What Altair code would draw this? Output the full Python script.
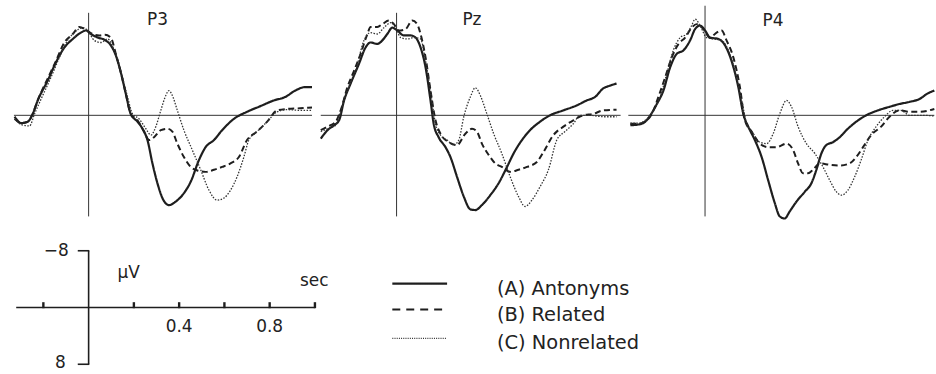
import altair as alt
import pandas as pd

INK = "#1e1e1e"
FONT = "DejaVu Sans"

conditions = ["(A) Antonyms", "(B) Related", "(C) Nonrelated"]
panel_names = ["P3", "Pz", "P4"]

# ---------------- P3 ----------------
p3_a_t = [-0.327, -0.298, -0.269, -0.247, -0.225, -0.181, -0.144, -0.107, -0.070, -0.034, -0.012, 0.010, 0.040, 0.069, 0.098, 0.120, 0.142, 0.164, 0.186, 0.216, 0.238, 0.260, 0.282, 0.304, 0.326, 0.355, 0.385, 0.414, 0.451, 0.488, 0.517, 0.554, 0.590, 0.642, 0.700, 0.759, 0.818, 0.869, 0.913, 0.957, 0.987]
p3_a_v = [0.2, 1.1, 0.9, -0.2, -2.1, -4.9, -7.5, -9.6, -10.8, -11.7, -12.0, -11.5, -11.0, -10.7, -9.9, -8.5, -6.1, -3.1, -0.2, 0.9, 1.9, 3.5, 6.8, 9.6, 11.7, 12.7, 12.2, 11.3, 9.4, 6.3, 4.5, 3.5, 2.1, 0.5, -0.5, -1.3, -2.1, -2.6, -3.5, -4.0, -4.0]

p3_b_t = [-0.327, -0.298, -0.269, -0.247, -0.225, -0.181, -0.144, -0.107, -0.070, -0.041, -0.012, 0.018, 0.047, 0.072, 0.098, 0.120, 0.142, 0.164, 0.186, 0.216, 0.245, 0.267, 0.289, 0.319, 0.348, 0.370, 0.392, 0.421, 0.451, 0.480, 0.517, 0.554, 0.590, 0.627, 0.664, 0.700, 0.744, 0.789, 0.833, 0.877, 0.935, 0.987]
p3_b_v = [0.5, 1.1, 0.9, -0.2, -2.1, -5.2, -7.7, -10.3, -11.5, -12.5, -12.1, -11.5, -11.3, -11.4, -11.0, -8.7, -6.1, -3.1, -0.2, 0.7, 2.3, 3.5, 3.1, 2.1, 1.9, 2.3, 4.0, 5.9, 7.3, 7.8, 8.0, 7.7, 7.3, 6.8, 5.9, 3.5, 2.3, 0.9, -0.7, -0.9, -1.0, -1.1]

p3_c_t = [-0.327, -0.298, -0.261, -0.239, -0.210, -0.166, -0.129, -0.093, -0.063, -0.026, -0.004, 0.025, 0.054, 0.084, 0.113, 0.142, 0.172, 0.194, 0.223, 0.253, 0.275, 0.297, 0.319, 0.341, 0.355, 0.370, 0.392, 0.421, 0.458, 0.495, 0.532, 0.568, 0.598, 0.627, 0.656, 0.686, 0.708, 0.744, 0.789, 0.833, 0.877, 0.935, 0.987]
p3_c_v = [0.5, 1.3, 1.5, -0.2, -2.3, -5.4, -8.2, -10.6, -11.7, -12.4, -12.0, -10.6, -10.3, -10.8, -9.2, -6.3, -2.6, -0.2, 0.5, 1.9, 2.8, 1.6, -0.7, -2.8, -3.5, -2.8, -0.7, 2.1, 4.9, 7.7, 10.6, 12.0, 11.7, 10.6, 8.7, 5.9, 3.5, 2.3, 0.9, -0.5, -0.8, -0.7, -0.7]

# ---------------- Pz ----------------
pz_a_t = [-0.335, -0.305, -0.276, -0.254, -0.232, -0.203, -0.166, -0.137, -0.115, -0.085, -0.063, -0.041, -0.019, 0.003, 0.032, 0.062, 0.084, 0.106, 0.128, 0.150, 0.164, 0.186, 0.216, 0.238, 0.267, 0.297, 0.326, 0.348, 0.377, 0.414, 0.451, 0.488, 0.517, 0.554, 0.590, 0.634, 0.678, 0.737, 0.796, 0.840, 0.877, 0.913, 0.943, 0.972]
pz_a_v = [3.3, 2.1, 1.4, 0.7, -2.1, -4.5, -7.3, -9.6, -10.3, -10.1, -10.6, -11.5, -12.4, -12.0, -11.3, -11.3, -11.0, -9.6, -6.8, -2.1, 1.2, 3.1, 4.5, 5.9, 8.7, 11.5, 13.3, 13.4, 12.7, 11.3, 9.6, 7.3, 5.4, 3.5, 2.1, 0.9, 0.0, -0.7, -1.4, -2.1, -2.6, -3.8, -4.2, -4.5]

pz_b_t = [-0.335, -0.305, -0.269, -0.247, -0.217, -0.188, -0.159, -0.129, -0.115, -0.085, -0.063, -0.034, -0.012, 0.010, 0.040, 0.069, 0.091, 0.106, 0.128, 0.150, 0.172, 0.194, 0.231, 0.267, 0.304, 0.333, 0.355, 0.377, 0.407, 0.436, 0.465, 0.502, 0.539, 0.576, 0.620, 0.649, 0.693, 0.737, 0.781, 0.825, 0.869, 0.913, 0.972]
pz_b_v = [2.1, 1.6, 0.9, -0.7, -4.0, -6.3, -8.7, -11.5, -12.5, -12.5, -12.9, -13.4, -12.9, -12.0, -12.2, -13.4, -12.9, -11.5, -8.2, -3.5, 0.7, 2.6, 3.8, 4.2, 2.6, 1.9, 2.3, 4.0, 5.6, 6.8, 7.3, 8.0, 7.7, 7.3, 6.6, 5.2, 2.8, 1.6, 0.7, 0.0, -0.2, -0.7, -0.8]

pz_c_t = [-0.335, -0.305, -0.269, -0.247, -0.217, -0.181, -0.144, -0.115, -0.085, -0.056, -0.026, -0.004, 0.018, 0.047, 0.076, 0.106, 0.128, 0.150, 0.172, 0.194, 0.223, 0.253, 0.275, 0.297, 0.326, 0.348, 0.370, 0.399, 0.429, 0.465, 0.502, 0.539, 0.568, 0.598, 0.634, 0.671, 0.708, 0.744, 0.781, 0.811, 0.855, 0.913, 0.972]
pz_c_v = [2.3, 1.9, 1.4, -0.7, -3.5, -6.3, -10.6, -11.7, -11.5, -12.4, -13.1, -12.4, -11.0, -10.8, -11.0, -10.8, -7.7, -3.5, 1.2, 2.8, 3.5, 4.2, 3.5, 0.2, -2.6, -3.9, -2.8, -0.2, 2.6, 5.4, 8.7, 11.5, 12.9, 12.0, 10.1, 7.7, 3.5, 2.3, 1.2, 0.0, 0.0, 0.2, 0.2]

# ---------------- P4 ----------------
p4_a_t = [-0.330, -0.294, -0.264, -0.242, -0.213, -0.184, -0.154, -0.125, -0.095, -0.066, -0.044, -0.022, 0.000, 0.022, 0.059, 0.088, 0.117, 0.147, 0.169, 0.191, 0.220, 0.250, 0.279, 0.308, 0.330, 0.352, 0.374, 0.404, 0.441, 0.470, 0.492, 0.514, 0.536, 0.565, 0.595, 0.631, 0.668, 0.712, 0.764, 0.815, 0.859, 0.903, 0.947, 0.984, 1.013]
p4_a_v = [1.4, 1.3, 0.9, 0.0, -1.6, -3.5, -6.8, -8.7, -9.2, -10.6, -12.2, -12.7, -12.0, -11.0, -10.8, -9.9, -7.7, -4.0, -0.2, 1.6, 3.5, 5.9, 9.2, 12.4, 14.3, 14.6, 13.6, 12.2, 10.8, 9.6, 7.7, 5.4, 4.2, 3.8, 3.1, 1.9, 0.9, 0.0, -0.7, -1.2, -1.6, -1.9, -2.3, -3.1, -3.5]

p4_b_t = [-0.330, -0.294, -0.257, -0.235, -0.206, -0.176, -0.147, -0.117, -0.088, -0.059, -0.037, -0.007, 0.022, 0.051, 0.073, 0.095, 0.125, 0.154, 0.176, 0.206, 0.242, 0.279, 0.316, 0.360, 0.389, 0.411, 0.433, 0.455, 0.477, 0.507, 0.551, 0.595, 0.639, 0.668, 0.698, 0.734, 0.778, 0.815, 0.859, 0.903, 0.947, 1.013]
p4_b_v = [1.2, 1.2, 0.7, -0.2, -2.6, -5.4, -8.2, -10.1, -11.0, -12.4, -12.9, -12.2, -11.0, -11.7, -12.0, -10.6, -8.2, -4.0, 0.7, 2.3, 4.0, 4.5, 4.5, 4.0, 4.9, 6.8, 8.2, 8.2, 7.7, 6.8, 7.0, 7.1, 6.8, 5.9, 4.5, 2.8, 1.6, 0.2, -0.7, -0.5, -0.5, -0.9]

p4_c_t = [-0.330, -0.294, -0.257, -0.228, -0.198, -0.169, -0.140, -0.110, -0.081, -0.059, -0.044, -0.022, 0.007, 0.037, 0.073, 0.103, 0.132, 0.162, 0.184, 0.213, 0.242, 0.272, 0.301, 0.330, 0.360, 0.382, 0.411, 0.448, 0.485, 0.521, 0.551, 0.580, 0.602, 0.631, 0.661, 0.690, 0.720, 0.756, 0.793, 0.830, 0.866, 0.903, 0.962, 1.013]
p4_c_v = [1.1, 1.1, 0.5, -0.7, -2.6, -5.9, -9.2, -11.0, -11.5, -12.7, -13.6, -12.7, -11.0, -10.8, -10.6, -9.2, -6.3, -2.1, 1.2, 2.6, 3.8, 4.0, 2.6, -0.2, -2.1, -1.2, 1.6, 4.0, 5.4, 7.3, 9.2, 10.8, 11.3, 10.6, 8.7, 6.3, 3.5, 1.6, 0.2, -0.7, -0.7, 0.0, 0.0, 0.1]

# panel geometry in data units (seconds / microvolts)
panel_t_domain = {"P3": [-0.33, 0.99], "Pz": [-0.34, 0.98], "P4": [-0.339, 1.016]}
panel_width = {"P3": 300, "Pz": 300, "P4": 308}
baseline_t = {"P3": [-0.33, 0.987], "Pz": [-0.335, 0.99], "P4": [-0.339, 1.013]}
zero_line_v = {"P3": [-14.5, 14.3], "Pz": [-14.5, 14.3], "P4": [-15.5, 14.3]}
title_pos = {"P3": [0.304, -13.5], "Pz": [0.333, -13.5], "P4": [0.30, -13.3]}
PANEL_V_DOMAIN = [-16.2, 15.07]
PANEL_H = 222

series = {
    "P3": [(p3_a_t, p3_a_v), (p3_b_t, p3_b_v), (p3_c_t, p3_c_v)],
    "Pz": [(pz_a_t, pz_a_v), (pz_b_t, pz_b_v), (pz_c_t, pz_c_v)],
    "P4": [(p4_a_t, p4_a_v), (p4_b_t, p4_b_v), (p4_c_t, p4_c_v)],
}

styles = {
    conditions[0]: dict(strokeWidth=2.2, strokeDash=[1, 0], color=INK),
    conditions[1]: dict(strokeWidth=2.0, strokeDash=[6, 3.5], color=INK),
    conditions[2]: dict(strokeWidth=1.3, strokeDash=[1.5, 1.5], color="#333333"),
}


def make_panel(name):
    xs = alt.Scale(domain=panel_t_domain[name], nice=False, zero=False)
    ys = alt.Scale(domain=PANEL_V_DOMAIN, reverse=True, nice=False, zero=False)
    X = lambda f: alt.X(f, scale=xs, axis=None)
    Y = lambda f: alt.Y(f, scale=ys, axis=None)

    layers = []
    base_df = pd.DataFrame({"t0": [baseline_t[name][0]], "t1": [baseline_t[name][1]], "v": [0.0]})
    layers.append(alt.Chart(base_df).mark_rule(color="#333333", strokeWidth=1).encode(
        x=X("t0:Q"), x2="t1:Q", y=Y("v:Q")))
    zero_df = pd.DataFrame({"t": [0.0], "v0": [zero_line_v[name][0]], "v1": [zero_line_v[name][1]]})
    layers.append(alt.Chart(zero_df).mark_rule(color="#333333", strokeWidth=1).encode(
        x=X("t:Q"), y=Y("v0:Q"), y2="v1:Q"))

    for cond, (ts, vs) in zip(conditions, series[name]):
        df = pd.DataFrame({"t": ts, "v": vs, "cond": cond})
        st = styles[cond]
        layers.append(alt.Chart(df).mark_line(
            interpolate="monotone", color=st["color"], strokeWidth=st["strokeWidth"],
            strokeDash=st["strokeDash"], strokeCap="butt", strokeJoin="round").encode(
            x=X("t:Q"), y=Y("v:Q")))

    tdf = pd.DataFrame({"t": [title_pos[name][0]], "v": [title_pos[name][1]], "label": [name]})
    layers.append(alt.Chart(tdf).mark_text(font=FONT, fontSize=17, color="#222222",
                                           align="center", baseline="middle").encode(
        x=X("t:Q"), y=Y("v:Q"), text="label:N"))
    return alt.layer(*layers).properties(width=panel_width[name], height=PANEL_H)


# ---------------- scale bar ----------------
scale_ticks = [-0.2, 0.2, 0.4, 0.6, 0.8, 1.0]
scale_tick_labels = [0.4, 0.8]
scale_axis_t = [-0.32, 1.0]
bracket_v = [-8, 8]
bracket_end_t = -0.048
SC_T_DOMAIN = [-0.33, 1.166]
SC_V_DOMAIN = [-10.67, 9.26]


def make_scale():
    xs = alt.Scale(domain=SC_T_DOMAIN, nice=False, zero=False)
    ys = alt.Scale(domain=SC_V_DOMAIN, reverse=True, nice=False, zero=False)
    X = lambda f: alt.X(f, scale=xs, axis=None)
    Y = lambda f: alt.Y(f, scale=ys, axis=None)
    layers = []
    ax = pd.DataFrame({"t0": [scale_axis_t[0]], "t1": [scale_axis_t[1]], "v": [0.0]})
    layers.append(alt.Chart(ax).mark_rule(color=INK, strokeWidth=1.6).encode(
        x=X("t0:Q"), x2="t1:Q", y=Y("v:Q")))
    tk = pd.DataFrame({"t": scale_ticks, "v0": 0.1, "v1": -0.75})
    layers.append(alt.Chart(tk).mark_rule(color=INK, strokeWidth=2.4).encode(
        x=X("t:Q"), y=Y("v0:Q"), y2="v1:Q"))
    vb = pd.DataFrame({"t": [0.0], "v0": [bracket_v[0]], "v1": [bracket_v[1]]})
    layers.append(alt.Chart(vb).mark_rule(color=INK, strokeWidth=1.6).encode(
        x=X("t:Q"), y=Y("v0:Q"), y2="v1:Q"))
    hb = pd.DataFrame({"t0": bracket_end_t, "t1": 0.003, "v": bracket_v})
    layers.append(alt.Chart(hb).mark_rule(color=INK, strokeWidth=1.6).encode(
        x=X("t0:Q"), x2="t1:Q", y=Y("v:Q")))
    lab = pd.DataFrame({"t": scale_tick_labels, "v": 2.8,
                        "label": [f"{x:.1f}" for x in scale_tick_labels]})
    layers.append(alt.Chart(lab).mark_text(font=FONT, fontSize=17, color="#222222",
                                           align="center", baseline="middle").encode(
        x=X("t:Q"), y=Y("v:Q"), text="label:N"))
    vl = pd.DataFrame({"t": [-0.088, -0.101], "v": [-7.9, 7.8], "label": ["\u22128", "8"]})
    layers.append(alt.Chart(vl).mark_text(font=FONT, fontSize=17, color="#222222",
                                          align="right", baseline="middle").encode(
        x=X("t:Q"), y=Y("v:Q"), text="label:N"))
    ul = pd.DataFrame({"t": [0.128, 0.934], "v": [-4.9, -3.8], "label": ["\u03bcV", "sec"]})
    layers.append(alt.Chart(ul).mark_text(font=FONT, fontSize=17, color="#222222",
                                          align="left", baseline="middle").encode(
        x=X("t:Q"), y=Y("v:Q"), text="label:N"))
    return alt.layer(*layers).properties(width=340, height=142)


# legend rows: pixel offsets of each item inside the legend panel
legend_line_y = [52, 78, 107]
legend_text_y = [57, 84, 112]


def make_legend():
    layers = []
    for i, cond in enumerate(conditions):
        st = styles[cond]
        df = pd.DataFrame({"cond": [cond]})
        dash = [8, 6] if cond == conditions[1] else ([1, 1.2] if cond == conditions[2] else st["strokeDash"])
        layers.append(alt.Chart(df).mark_rule(color=st["color"], strokeWidth=st["strokeWidth"],
                                              strokeDash=dash, strokeCap="butt").encode(
            x=alt.value(10), x2=alt.value(65), y=alt.value(legend_line_y[i])))
        layers.append(alt.Chart(df).mark_text(font=FONT, fontSize=19.5, color="#222222",
                                              align="left", baseline="middle").encode(
            x=alt.value(115), y=alt.value(legend_text_y[i]), text="cond:N"))
    return alt.layer(*layers).properties(width=280, height=142)


top = alt.hconcat(*[make_panel(n) for n in panel_names], spacing=6)
bottom = alt.hconcat(make_scale(), make_legend(), spacing=30)
chart = alt.vconcat(top, bottom, spacing=10).properties(
    padding={"left": 13, "top": 0, "right": 0, "bottom": 0},
    background="white",
).configure_view(stroke=None)

chart.save("out.html", embed_options={"renderer": "svg", "actions": False})
